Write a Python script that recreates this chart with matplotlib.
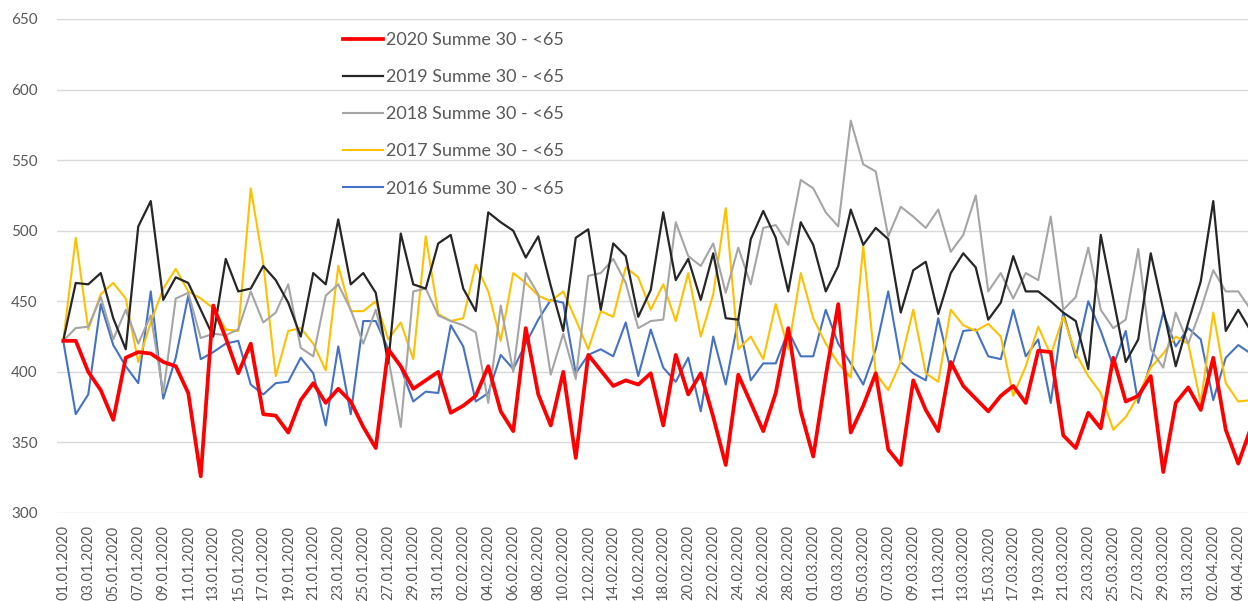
import matplotlib
matplotlib.use('Agg')
import matplotlib.pyplot as plt
import pandas as pd

# Kategorien: Tage 01.01.2020 - 05.04.2020
dates = pd.date_range('2020-01-01', periods=96, freq='D')
date_labels = [d.strftime('%d.%m.%Y') for d in dates]

y2020 = [422, 422, 400, 387, 366, 410, 414, 413, 407, 404, 385, 326, 447, 424, 399, 420,
         370, 369, 357, 380, 392, 378, 388, 379, 361, 346, 416, 404, 388, 394, 400, 371,
         376, 383, 404, 372, 358, 431, 384, 362, 400, 339, 412, 401, 390, 394, 391, 399,
         362, 412, 384, 399, 368, 334, 398, 378, 358, 385, 431, 372, 340, 397, 448, 357,
         376, 399, 345, 334, 394, 373, 358, 407, 390, 381, 372, 383, 390, 378, 415, 414,
         355, 346, 371, 360, 410, 379, 383, 397, 329, 378, 389, 373, 410, 359, 335, 360]

y2019 = [422, 463, 462, 470, 438, 416, 503, 521, 451, 467, 463, 444, 425, 480, 457, 459,
         475, 465, 449, 425, 470, 462, 508, 462, 470, 456, 406, 498, 462, 459, 491, 497,
         459, 443, 513, 506, 500, 481, 496, 461, 429, 495, 501, 444, 491, 482, 439, 458,
         513, 465, 480, 451, 484, 438, 437, 494, 514, 495, 457, 506, 490, 457, 475, 515,
         490, 502, 494, 442, 472, 478, 441, 470, 484, 474, 437, 449, 482, 457, 457, 450,
         442, 436, 402, 497, 452, 407, 423, 484, 444, 404, 435, 464, 521, 429, 444, 429]

y2018 = [422, 431, 432, 453, 423, 444, 420, 440, 385, 452, 456, 424, 427, 426, 430, 457,
         435, 442, 462, 417, 411, 454, 462, 444, 420, 444, 410, 361, 457, 459, 440, 436,
         433, 428, 378, 447, 400, 470, 455, 398, 427, 395, 468, 470, 480, 463, 431, 436,
         437, 506, 482, 475, 491, 456, 488, 462, 502, 504, 490, 536, 530, 513, 503, 578,
         547, 542, 496, 517, 510, 502, 515, 485, 497, 525, 457, 470, 452, 470, 465, 510,
         444, 453, 488, 444, 431, 437, 487, 416, 403, 442, 420, 444, 472, 457, 457, 444]

y2017 = [422, 495, 430, 455, 463, 452, 407, 435, 459, 473, 457, 452, 445, 430, 429, 530,
         477, 397, 429, 431, 420, 401, 475, 443, 443, 450, 423, 435, 409, 496, 441, 436,
         438, 476, 457, 422, 470, 463, 454, 450, 457, 437, 416, 443, 439, 474, 467, 444,
         462, 436, 470, 425, 455, 516, 416, 425, 409, 448, 416, 470, 438, 420, 406, 396,
         489, 399, 387, 407, 444, 399, 393, 444, 433, 429, 434, 425, 383, 404, 432, 412,
         439, 413, 397, 385, 359, 368, 383, 403, 413, 425, 420, 378, 442, 392, 379, 380]

y2016 = [422, 370, 384, 448, 419, 404, 392, 457, 381, 410, 454, 409, 414, 420, 422, 391,
         384, 392, 393, 410, 399, 362, 418, 370, 436, 436, 416, 403, 379, 386, 385, 433,
         418, 379, 385, 412, 402, 420, 437, 451, 449, 399, 412, 416, 411, 435, 397, 430,
         403, 393, 410, 372, 425, 391, 437, 394, 406, 406, 429, 411, 411, 444, 420, 406,
         391, 416, 457, 407, 399, 394, 438, 401, 429, 430, 411, 409, 444, 411, 423, 378,
         442, 410, 450, 429, 404, 429, 378, 406, 442, 418, 431, 423, 380, 410, 419, 413]

series = [
    ('2016 Summe 30 - <65', y2016, '#4472C4', 1.5),
    ('2017 Summe 30 - <65', y2017, '#FFC000', 1.5),
    ('2018 Summe 30 - <65', y2018, '#A5A5A5', 1.5),
    ('2019 Summe 30 - <65', y2019, '#262626', 1.6),
    ('2020 Summe 30 - <65', y2020, '#FF0000', 2.7),
]

plt.rcParams['font.family'] = ['Lato', 'DejaVu Sans']
text_col = '#595959'

fig = plt.figure(figsize=(12.48, 6.01), dpi=100)
# rechter Rand liegt absichtlich ausserhalb des Bildes (Screenshot abgeschnitten)
ax = fig.add_axes([57 / 1248, 88 / 601, 1200 / 1248, 494 / 601])

x = list(range(len(dates)))
handles = {}
for name, vals, col, lw in series:
    line, = ax.plot(x, vals, color=col, linewidth=lw, label=name, solid_joinstyle='round')
    handles[name] = line

ax.set_xlim(-0.5, len(dates) - 0.5)
ax.set_ylim(300, 650)
ax.set_yticks(range(300, 651, 50))
ax.set_xticks(x[::2])
ax.set_xticklabels(date_labels[::2], rotation=90)
ax.grid(axis='y', color='#D9D9D9', linewidth=1)
ax.set_axisbelow(True)
for s in ax.spines.values():
    s.set_visible(False)
ax.tick_params(axis='x', length=0, pad=9, labelsize=10.5, labelcolor=text_col)
ax.tick_params(axis='y', length=0, pad=14, labelsize=11, labelcolor=text_col)

order = ['2020 Summe 30 - <65', '2019 Summe 30 - <65', '2018 Summe 30 - <65',
         '2017 Summe 30 - <65', '2016 Summe 30 - <65']
leg = ax.legend([handles[n] for n in order], order, loc='upper left',
                bbox_to_anchor=(286 / 1200, (513 - 32) / 494), frameon=False,
                fontsize=13, handlelength=2.2, handletextpad=0.2,
                labelspacing=1.17, borderpad=0, borderaxespad=0)
for t in leg.get_texts():
    t.set_color(text_col)

fig.savefig('out.png', dpi=100)
